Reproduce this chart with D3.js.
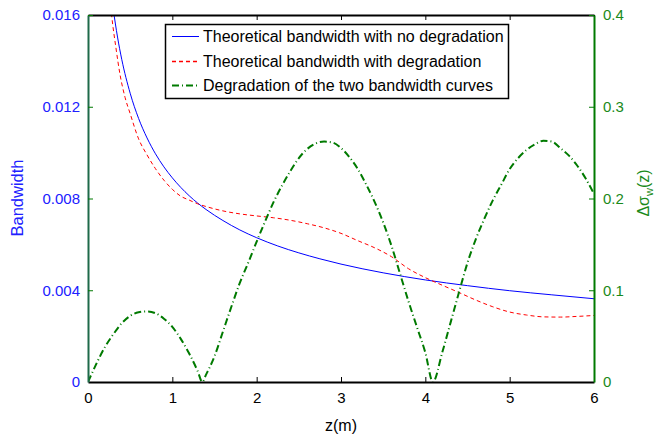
<!DOCTYPE html>
<html><head><meta charset="utf-8">
<script src="https://cdn.jsdelivr.net/npm/d3@7"></script>
<style>body{margin:0;background:#fff}svg{display:block}text{font-family:"Liberation Sans",Arial,Helvetica,sans-serif}</style>
</head><body><svg id="c" width="657" height="439"></svg>
<script>
const xTicks=[0,1,2,3,4,5,6];
const leftTicks=[0,0.004,0.008,0.012,0.016];
const leftTickLabels=["0","0.004","0.008","0.012","0.016"];
const rightTicks=[0,0.1,0.2,0.3,0.4];
const rightTickLabels=["0","0.1","0.2","0.3","0.4"];
const seriesNames=["Theoretical bandwidth with no degradation","Theoretical bandwidth with degradation","Degradation of the two bandwidth curves"];

const blueZ=[0.25,0.3,0.35,0.4,0.5,0.6,0.7,0.8,0.9,1.0,1.2,1.4,1.6,1.8,2.0,2.25,2.5,2.75,3.0,3.5,4.0,4.5,5.0,5.5,6.0];
const blueV=[0.0178,0.01625,0.01504,0.01407,0.01259,0.01149,0.01064,0.00995,0.00938,0.0089,0.00812,0.00752,0.00704,0.00663,0.00629,0.00593,0.00563,0.00537,0.00514,0.00476,0.00445,0.0042,0.00398,0.0038,0.00363];

const redZ=[0.24,0.28,0.33,0.38,0.44,0.5,0.6,0.7,0.8,0.9,1.0,1.1,1.2,1.3,1.4,1.6,1.8,2.0,2.2,2.4,2.6,2.8,3.0,3.2,3.4,3.6,3.8,4.0,4.2,4.4,4.6,4.8,5.0,5.2,5.4,5.6,5.8,6.0];
const redV=[0.0176,0.0160,0.0146,0.0134,0.0124,0.0117,0.0106,0.0099,0.0093,0.0088,0.0084,0.0081,0.00793,0.00777,0.00765,0.00746,0.00733,0.00724,0.00716,0.00705,0.0069,0.00672,0.00648,0.00616,0.00585,0.00546,0.00494,0.00455,0.00422,0.0039,0.00357,0.00328,0.00305,0.00292,0.00284,0.00283,0.00286,0.0029];

const greenZ=[0,0.1,0.2,0.3,0.4,0.5,0.6,0.7,0.8,0.9,1.0,1.1,1.2,1.3,1.356,1.4,1.5,1.6,1.7,1.8,1.9,2.0,2.1,2.2,2.3,2.4,2.5,2.6,2.7,2.8,2.9,3.0,3.1,3.2,3.3,3.4,3.5,3.6,3.7,3.8,3.9,4.0,4.09,4.2,4.3,4.4,4.5,4.6,4.7,4.8,4.9,5.0,5.1,5.2,5.3,5.4,5.5,5.6,5.7,5.8,5.9,6.0];
const greenV=[0,0.020,0.038,0.052,0.064,0.072,0.076,0.077,0.075,0.069,0.060,0.047,0.031,0.012,0,0.008,0.028,0.055,0.082,0.108,0.130,0.153,0.175,0.196,0.214,0.230,0.244,0.254,0.260,0.262,0.261,0.255,0.245,0.232,0.215,0.196,0.174,0.148,0.118,0.088,0.060,0.032,0,0.032,0.065,0.098,0.130,0.156,0.178,0.198,0.215,0.232,0.244,0.253,0.259,0.263,0.262,0.255,0.247,0.236,0.222,0.205];

const L=88,R=594,T=15,B=382;
const BLUE="#0000ff",RED="#ff0000",GREEN="#007a00",GTXT="#1a8a1a",BTXT="#2020ff";
const svg=d3.select("#c");
const x=d3.scaleLinear().domain([0,6]).range([L,R]);
const yL=d3.scaleLinear().domain([0,0.016]).range([B,T]);
const yR=d3.scaleLinear().domain([0,0.4]).range([B,T]);

svg.append("defs").append("clipPath").attr("id","clip").append("rect").attr("x",L).attr("y",T).attr("width",R-L).attr("height",B-T);

const g=svg.append("g").attr("clip-path","url(#clip)");
const lineL=d3.line().x(d=>x(d[0])).y(d=>yL(d[1])).curve(d3.curveMonotoneX);
const lineR=d3.line().x(d=>x(d[0])).y(d=>yR(d[1])).curve(d3.curveMonotoneX);
g.append("path").attr("d",lineL(blueZ.map((z,i)=>[z,blueV[i]]))).attr("fill","none").attr("stroke",BLUE).attr("stroke-width",1);
g.append("path").attr("d",lineL(redZ.map((z,i)=>[z,redV[i]]))).attr("fill","none").attr("stroke",RED).attr("stroke-width",1).attr("stroke-dasharray","4,3");
g.append("path").attr("d",lineR(greenZ.map((z,i)=>[z,greenV[i]]))).attr("fill","none").attr("stroke",GREEN).attr("stroke-width",2).attr("stroke-dasharray","7,3,1,3");

// axes
const axB=svg.append("g").attr("transform",`translate(0,${B})`).call(d3.axisBottom(x).tickValues(xTicks).tickFormat(d3.format("d")).tickSizeInner(-5).tickSizeOuter(0).tickPadding(10));
axB.select(".domain").attr("stroke","#000").attr("stroke-width",2);
axB.selectAll("text").attr("font-size",15).attr("fill","#000");
const axT=svg.append("g").attr("transform",`translate(0,${T})`).call(d3.axisTop(x).tickValues(xTicks).tickFormat("").tickSizeInner(-5).tickSizeOuter(0));
axT.select(".domain").attr("stroke","#000").attr("stroke-width",2);

const axL=svg.append("g").attr("transform",`translate(${L},0)`).call(d3.axisLeft(yL).tickValues(leftTicks).tickFormat((d,i)=>leftTickLabels[i]).tickSizeInner(-5).tickSizeOuter(0).tickPadding(8));
axL.select(".domain").attr("stroke","#1f6a4a").attr("stroke-width",2);
axL.selectAll(".tick line").attr("stroke",GREEN);
axL.selectAll("text").attr("font-size",15).attr("fill",BTXT);

const axR=svg.append("g").attr("transform",`translate(${R},0)`).call(d3.axisRight(yR).tickValues(rightTicks).tickFormat((d,i)=>rightTickLabels[i]).tickSizeInner(-5).tickSizeOuter(0).tickPadding(9));
axR.select(".domain").attr("stroke",GREEN).attr("stroke-width",2);
axR.selectAll(".tick line").attr("stroke",GREEN);
axR.selectAll("text").attr("font-size",15).attr("fill",GTXT);
svg.selectAll(".tick").filter(d=>d===0).select("line").attr("stroke-opacity",0);

// titles
svg.append("text").attr("x",(L+R)/2).attr("y",431).attr("text-anchor","middle").attr("font-size",16).attr("fill","#000").text("z(m)");
svg.append("text").attr("transform","translate(23,198) rotate(-90)").attr("text-anchor","middle").attr("font-size",16.5).attr("fill",BTXT).text("Bandwidth");
const rt=svg.append("text").attr("transform","translate(649,193) rotate(-90)").attr("text-anchor","middle").attr("font-size",16).attr("fill",GTXT);
rt.append("tspan").text("Δσ");
rt.append("tspan").attr("font-size",11).attr("dy",4).text("w");
rt.append("tspan").attr("dy",-4).text("(z)");

// legend
const lg=svg.append("g");
lg.append("rect").attr("x",165.5).attr("y",24.5).attr("width",343).attr("height",74).attr("fill","#fff").attr("stroke","#000").attr("stroke-width",1.5);
const rows=[36.5,61.5,85.5];
const styles=[{c:BLUE,w:1,d:null},{c:RED,w:1.5,d:"4,3"},{c:GREEN,w:2,d:"7,3,1,3"}];
seriesNames.forEach((n,i)=>{
  const ln=lg.append("line").attr("x1",172).attr("x2",199).attr("y1",rows[i]).attr("y2",rows[i]).attr("stroke",styles[i].c).attr("stroke-width",styles[i].w);
  if(styles[i].d) ln.attr("stroke-dasharray",styles[i].d);
  lg.append("text").attr("x",203).attr("y",rows[i]+5.5).attr("font-size",16).attr("fill","#000").text(n);
});
</script></body></html>
